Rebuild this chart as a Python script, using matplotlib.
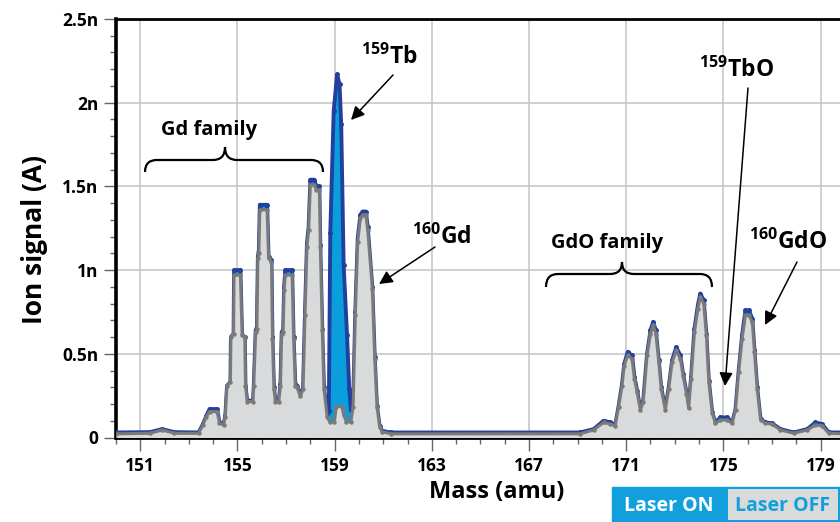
import numpy as np
import matplotlib
matplotlib.use('Agg')
import matplotlib.pyplot as plt
from matplotlib.path import Path
from matplotlib.patches import PathPatch, Rectangle
from matplotlib.ticker import MultipleLocator

plt.rcParams['font.family'] = ['Open Sans', 'DejaVu Sans']
plt.rcParams['font.weight'] = 'bold'
plt.rcParams['mathtext.fontset'] = 'custom'
plt.rcParams['mathtext.rm'] = 'Open Sans:bold'
plt.rcParams['mathtext.it'] = 'Open Sans:bold'
plt.rcParams['mathtext.bf'] = 'Open Sans:bold'

# ion signal in nA vs mass (amu)
mass_off = [150.0, 151.4, 151.9, 152.4, 153.4, 153.58, 153.72, 153.85, 154.16, 154.26,
            154.43, 154.5, 154.57, 154.71, 154.73, 154.84, 154.86, 155.12, 155.19, 155.3,
            155.33, 155.4, 155.64, 155.67, 155.75, 155.8, 155.84, 155.88, 155.92, 156.22,
            156.28, 156.4, 156.44, 156.5, 156.56, 156.7, 156.77, 156.82, 156.88, 156.92,
            156.97, 157.25, 157.31, 157.38, 157.45, 157.59, 157.7, 157.78, 157.86, 157.93,
            158.0, 158.16, 158.25, 158.37, 158.41, 158.49, 158.56, 158.69, 158.79, 158.99,
            159.07, 159.3, 159.37, 159.48, 159.67, 159.76, 159.85, 159.95, 160.06, 160.15,
            160.28, 160.36, 160.55, 160.65, 160.74, 160.85, 160.95, 161.3, 169.1, 169.66,
            170.07, 170.35, 170.55, 170.69, 170.83, 170.92, 171.06, 171.24, 171.34, 171.45,
            171.58, 171.7, 171.86, 172.0, 172.11, 172.22, 172.34, 172.44, 172.61, 172.75,
            172.89, 173.06, 173.23, 173.34, 173.48, 173.57, 173.67, 173.81, 173.95, 174.05,
            174.19, 174.3, 174.4, 174.54, 174.67, 174.88, 175.15, 175.36, 175.5, 175.63,
            175.77, 175.91, 176.05, 176.19, 176.28, 176.39, 176.53, 176.73, 177.0, 177.35,
            177.9, 178.45, 178.79, 179.06, 179.34, 180.0]
sig_off = [0.022, 0.025, 0.045, 0.025, 0.025, 0.075, 0.125, 0.155, 0.155, 0.085,
           0.075, 0.125, 0.31, 0.33, 0.60, 0.62, 0.97, 0.97, 0.61, 0.60,
           0.31, 0.215, 0.215, 0.31, 0.63, 0.65, 1.07, 1.10, 1.36, 1.36,
           1.07, 1.05, 0.59, 0.29, 0.215, 0.215, 0.31, 0.62, 0.63, 0.88,
           0.97, 0.97, 0.59, 0.31, 0.30, 0.245, 0.29, 0.73, 1.14, 1.24,
           1.51, 1.51, 1.48, 1.48, 1.14, 0.64, 0.29, 0.125, 0.095, 0.095,
           0.185, 0.185, 0.135, 0.095, 0.095, 0.185, 0.73, 1.17, 1.31, 1.33,
           1.33, 1.24, 0.89, 0.47, 0.185, 0.065, 0.035, 0.022, 0.022, 0.045,
           0.09, 0.08, 0.07, 0.185, 0.31, 0.43, 0.49, 0.47, 0.35, 0.27,
           0.165, 0.21, 0.49, 0.62, 0.67, 0.62, 0.45, 0.29, 0.165, 0.29,
           0.45, 0.52, 0.47, 0.37, 0.26, 0.175, 0.35, 0.63, 0.77, 0.84,
           0.80, 0.61, 0.33, 0.145, 0.085, 0.105, 0.105, 0.085, 0.165, 0.39,
           0.59, 0.73, 0.73, 0.69, 0.51, 0.29, 0.105, 0.085, 0.08, 0.045,
           0.025, 0.045, 0.075, 0.07, 0.025, 0.022]

mass_on = [150.0, 151.4, 151.9, 152.4, 153.4, 153.58, 153.72, 153.85, 154.16, 154.26,
           154.43, 154.5, 154.57, 154.71, 154.73, 154.84, 154.86, 155.12, 155.19, 155.3,
           155.33, 155.4, 155.64, 155.67, 155.75, 155.8, 155.84, 155.88, 155.92, 156.22,
           156.28, 156.4, 156.44, 156.5, 156.56, 156.7, 156.77, 156.82, 156.88, 156.92,
           156.97, 157.25, 157.31, 157.38, 157.45, 157.59, 157.7, 157.78, 157.86, 157.93,
           158.0, 158.16, 158.25, 158.37, 158.41, 158.49, 158.56, 158.69, 158.76, 158.82,
           158.96, 159.1, 159.2, 159.27, 159.37, 159.51, 159.6, 159.67, 159.76, 159.85,
           159.95, 160.06, 160.15, 160.28, 160.36, 160.55, 160.65, 160.74, 160.85, 160.95,
           161.3, 169.1, 169.66, 170.07, 170.35, 170.55, 170.69, 170.83, 170.92, 171.06,
           171.24, 171.34, 171.45, 171.58, 171.7, 171.86, 172.0, 172.11, 172.22, 172.34,
           172.44, 172.61, 172.75, 172.89, 173.06, 173.23, 173.34, 173.48, 173.57, 173.67,
           173.81, 173.95, 174.05, 174.19, 174.3, 174.4, 174.54, 174.67, 174.88, 175.15,
           175.36, 175.5, 175.63, 175.77, 175.91, 176.05, 176.19, 176.28, 176.39, 176.53,
           176.73, 177.0, 177.35, 177.9, 178.45, 178.79, 179.06, 179.34, 180.0]
sig_on = [0.03, 0.032, 0.05, 0.032, 0.03, 0.08, 0.13, 0.17, 0.17, 0.09,
          0.08, 0.13, 0.31, 0.33, 0.60, 0.62, 1.0, 1.0, 0.61, 0.60,
          0.31, 0.22, 0.22, 0.31, 0.64, 0.66, 1.08, 1.12, 1.39, 1.39,
          1.08, 1.06, 0.60, 0.30, 0.22, 0.22, 0.32, 0.63, 0.64, 0.90,
          1.0, 1.0, 0.60, 0.32, 0.31, 0.25, 0.30, 0.75, 1.16, 1.26,
          1.54, 1.54, 1.50, 1.50, 1.15, 0.65, 0.30, 0.14, 0.16, 1.22,
          1.95, 2.17, 2.11, 1.87, 1.03, 0.61, 0.29, 0.165, 0.20, 0.75,
          1.19, 1.33, 1.35, 1.35, 1.26, 0.90, 0.48, 0.19, 0.07, 0.04,
          0.03, 0.03, 0.05, 0.10, 0.09, 0.075, 0.19, 0.32, 0.44, 0.51,
          0.49, 0.36, 0.28, 0.17, 0.22, 0.50, 0.64, 0.69, 0.64, 0.46,
          0.30, 0.17, 0.30, 0.46, 0.54, 0.49, 0.38, 0.27, 0.18, 0.36,
          0.65, 0.79, 0.86, 0.82, 0.62, 0.34, 0.15, 0.09, 0.12, 0.12,
          0.09, 0.17, 0.40, 0.61, 0.76, 0.76, 0.71, 0.52, 0.30, 0.11,
          0.09, 0.085, 0.05, 0.03, 0.05, 0.09, 0.08, 0.03, 0.03]

x_ticks = [151, 155, 159, 163, 167, 171, 175, 179]
y_ticks = [0, 0.5, 1, 1.5, 2, 2.5]
y_tick_labels = ['0', '0.5n', '1n', '1.5n', '2n', '2.5n']

ON_FILL, ON_EDGE = '#0a9fdc', '#2140a0'
OFF_FILL, OFF_EDGE = '#d9dadb', '#7a7a7a'
LEGEND_BLUE = '#12a0dc'

W, H = 840, 522


def fp(x, y):
    # pixel position measured from the top-left -> figure fraction
    return x / W, 1 - y / H


def brace(fig, x0, x1, xc, y_end, y_mid, y_tip, d=12):
    pts = [(x0, y_end), (x0, y_mid), (x0 + d, y_mid), (xc - d, y_mid), (xc, y_mid), (xc, y_tip),
           (xc, y_mid), (xc + d, y_mid), (x1 - d, y_mid), (x1, y_mid), (x1, y_end)]
    codes = [Path.MOVETO, Path.CURVE3, Path.CURVE3, Path.LINETO, Path.CURVE3, Path.CURVE3,
             Path.CURVE3, Path.CURVE3, Path.LINETO, Path.CURVE3, Path.CURVE3]
    verts = [fp(x, y) for x, y in pts]
    fig.patches.append(PathPatch(Path(verts, codes), transform=fig.transFigure,
                                 fill=False, lw=1.6, color='black'))


def arrow(ax, tail, head):
    ax.annotate('', xy=fp(*head), xycoords='figure fraction', xytext=fp(*tail),
                textcoords='figure fraction',
                arrowprops=dict(arrowstyle='-|>', color='black', lw=1.1, mutation_scale=20,
                                shrinkA=0, shrinkB=0))


fig = plt.figure(figsize=(8.4, 5.22), dpi=100)
ax = fig.add_axes([116 / W, 1 - 437.5 / H, 1 - 116 / W, (437.5 - 19) / H])

ax.fill_between(mass_on, sig_on, color=ON_FILL, lw=0, zorder=2)
ax.plot(mass_on, sig_on, color=ON_EDGE, lw=2.8, marker='o', ms=2.5, zorder=3)
ax.fill_between(mass_off, sig_off, color=OFF_FILL, lw=0, zorder=4)
ax.plot(mass_off, sig_off, color=OFF_EDGE, lw=2.2, marker='o', ms=2.2, zorder=5)

ax.set_xlim(150, 179.8)
ax.set_ylim(0, 2.5)
ax.set_xticks(x_ticks)
ax.xaxis.set_minor_locator(MultipleLocator(1))
ax.set_yticks(y_ticks, y_tick_labels)
ax.yaxis.set_minor_locator(MultipleLocator(0.1))
ax.tick_params(which='major', length=9, width=1, color='#666666', labelsize=12.5)
ax.tick_params(axis='x', which='major', pad=5)
ax.tick_params(which='minor', length=4.5, width=1, color='#666666')
ax.set_axisbelow(True)
ax.grid(which='major', color='#c4c4c4', lw=1.1)

ax.spines['right'].set_visible(False)
ax.spines['left'].set_linewidth(2.6)
ax.spines['bottom'].set_linewidth(2.0)
ax.spines['top'].set_linewidth(2.0)

fig.text(*fp(35, 240), 'Ion signal (A)', rotation=90, ha='center', va='center', fontsize=19)
fig.text(*fp(497, 492), 'Mass (amu)', ha='center', va='center', fontsize=17)

# annotations
fig.text(*fp(209, 130), 'Gd family', ha='center', va='center', fontsize=14.5)
brace(fig, 145, 323, 225, 172, 160, 147)
fig.text(*fp(607, 243), 'GdO family', ha='center', va='center', fontsize=14.5)
brace(fig, 546, 712, 622, 287, 274, 262)

fig.text(*fp(389, 57), r'$^{159}$Tb', ha='center', va='center', fontsize=16.5)
arrow(ax, (393, 75), (351, 120))
fig.text(*fp(442, 237), r'$^{160}$Gd', ha='center', va='center', fontsize=16.5)
arrow(ax, (435, 247), (379, 284))
fig.text(*fp(736, 70), r'$^{159}$TbO', ha='center', va='center', fontsize=16.5)
arrow(ax, (748, 88), (725, 386))
fig.text(*fp(788, 242), r'$^{160}$GdO', ha='center', va='center', fontsize=16.5)
arrow(ax, (797, 262), (765, 325))

# legend boxes
x0, y0 = fp(612, 522)
fig.patches.append(Rectangle((x0, y0), 1 - x0, 35 / H, transform=fig.transFigure,
                             color=LEGEND_BLUE, zorder=5))
x1, y1 = fp(728, 520)
fig.patches.append(Rectangle((x1, y1), 110 / W, 31 / H, transform=fig.transFigure,
                             facecolor=OFF_FILL, edgecolor='none', zorder=6))
fig.text(*fp(669, 506), 'Laser ON', ha='center', va='center', fontsize=14, color='white', zorder=7)
fig.text(*fp(783, 506), 'Laser OFF', ha='center', va='center', fontsize=14, color=LEGEND_BLUE, zorder=7)

plt.savefig('out.png', dpi=100)
